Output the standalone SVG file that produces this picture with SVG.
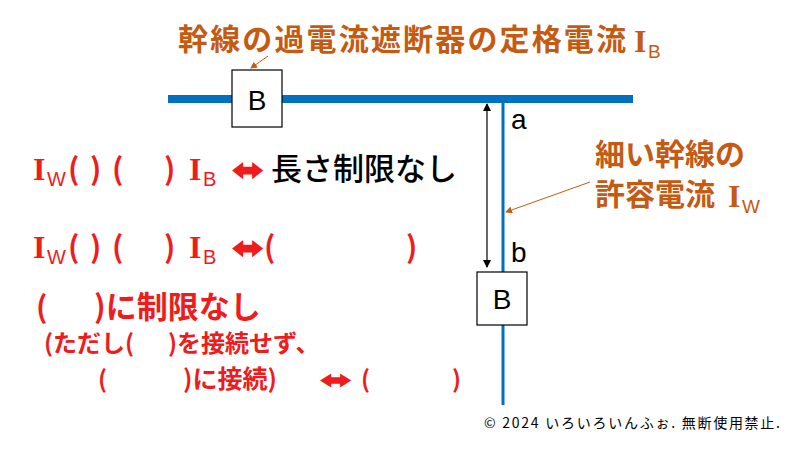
<svg xmlns="http://www.w3.org/2000/svg" width="800" height="450" viewBox="0 0 800 450">
<style>
.j{font-family:"Noto Sans CJK JP","Noto Sans",sans-serif;font-weight:bold}
.k{font-family:"Noto Sans CJK JP","Noto Sans",sans-serif;font-weight:500}
.r{fill:#ee1c1c}.o{fill:#c55a11}
.I{font-family:"Liberation Serif",serif;font-weight:bold}
.s{font-family:"Liberation Sans",sans-serif;font-weight:normal}
.box{fill:#fff;stroke:#000;stroke-width:1.2}
.bl{font-family:"Liberation Sans",Arial,sans-serif;font-size:28px}
</style>
<defs>
<marker id="ah" markerWidth="8" markerHeight="8" refX="7" refY="4" orient="auto" markerUnits="userSpaceOnUse"><path d="M0,0 L8,4 L0,8 z" fill="#000"/></marker>
<marker id="oh" markerWidth="7" markerHeight="7" refX="6" refY="3.5" orient="auto" markerUnits="userSpaceOnUse"><path d="M0,0 L7,3.5 L0,7 z" fill="#c55a11"/></marker>
</defs>
<rect width="800" height="450" fill="#fff"/>
<g id="connectors">
<line x1="168" y1="99" x2="633" y2="99" stroke="#0070c0" stroke-width="8"/>
<line x1="503" y1="103" x2="503" y2="405" stroke="#0070c0" stroke-width="3"/>
<line x1="487" y1="185" x2="487" y2="104" stroke="#000" stroke-width="1.2" marker-end="url(#ah)"/>
<line x1="487" y1="185" x2="487" y2="267" stroke="#000" stroke-width="1.2" marker-end="url(#ah)"/>
<line x1="268" y1="56" x2="251" y2="68" stroke="#c55a11" stroke-width="1" marker-end="url(#oh)"/>
<line x1="590" y1="182" x2="506" y2="212" stroke="#c55a11" stroke-width="1" marker-end="url(#oh)"/>
</g>
<g id="breaker1"><rect class="box" x="232" y="70" width="50" height="57"/><text class="bl" x="257" y="110" text-anchor="middle">B</text></g>
<g id="breaker2"><rect class="box" x="477" y="272" width="50" height="53"/><text class="bl" x="502" y="309" text-anchor="middle">B</text></g>
<g id="labels">
<text class="bl" x="511" y="129">a</text>
<text class="bl" x="511" y="262">b</text>
<text class="j o" x="178" y="50" font-size="30" textLength="448">幹線の過電流遮断器の定格電流</text>
<text class="o I" x="634" y="52" font-size="32">I</text><text class="o s" x="648" y="58" font-size="19">B</text>
<text class="j o" x="595" y="165" font-size="30">細い幹線の</text>
<text class="j o" x="595" y="205" font-size="30">許容電流</text>
<text class="o I" x="728" y="207" font-size="32">I</text><text class="o s" x="742" y="213" font-size="19">W</text>

<g class="r">
<text class="I" x="33" y="180" font-size="32">I</text><text class="s" x="47" y="186" font-size="20">W</text>
<text class="j" x="68" y="180" font-size="30">(</text><text class="j" x="90" y="180" font-size="30">)</text>
<text class="j" x="112" y="180" font-size="30">(</text><text class="j" x="164" y="180" font-size="30">)</text>
<text class="I" x="189" y="180" font-size="32">I</text><text class="s" x="203" y="186" font-size="20">B</text>
<text class="j" x="232" y="180" font-size="30" textLength="32" lengthAdjust="spacingAndGlyphs">⬌</text>
</g>
<text class="k" x="271" y="180" font-size="31" fill="#000">長さ制限なし</text>

<g class="r">
<text class="I" x="33" y="258" font-size="32">I</text><text class="s" x="47" y="264" font-size="20">W</text>
<text class="j" x="68" y="258" font-size="30">(</text><text class="j" x="90" y="258" font-size="30">)</text>
<text class="j" x="112" y="258" font-size="30">(</text><text class="j" x="164" y="258" font-size="30">)</text>
<text class="I" x="189" y="258" font-size="32">I</text><text class="s" x="203" y="264" font-size="20">B</text>
<text class="j" x="232" y="258" font-size="30" textLength="32" lengthAdjust="spacingAndGlyphs">⬌</text>
<text class="j" x="264" y="258" font-size="30">(</text>
<text class="j" x="406" y="258" font-size="30">)</text>

<text class="j" x="36" y="318" font-size="30">(</text>
<text class="j" x="94" y="318" font-size="31">)に制限なし</text>
<text class="j" x="44" y="352" font-size="24">(ただし(</text>
<text class="j" x="168" y="352" font-size="24">)を接続せず、</text>
<text class="j" x="98" y="388" font-size="24">(</text>
<text class="j" x="183" y="388" font-size="25">)に接続)</text>
<text class="j" x="320" y="388" font-size="24" textLength="32" lengthAdjust="spacingAndGlyphs">⬌</text>
<text class="j" x="361" y="388" font-size="24">(</text>
<text class="j" x="452" y="388" font-size="24">)</text>
</g>
<text x="484" y="428" font-family="Noto Sans CJK JP,sans-serif" font-size="14" textLength="296" fill="#000">© 2024 いろいろいんふぉ. 無断使用禁止.</text>
</g>
</svg>
